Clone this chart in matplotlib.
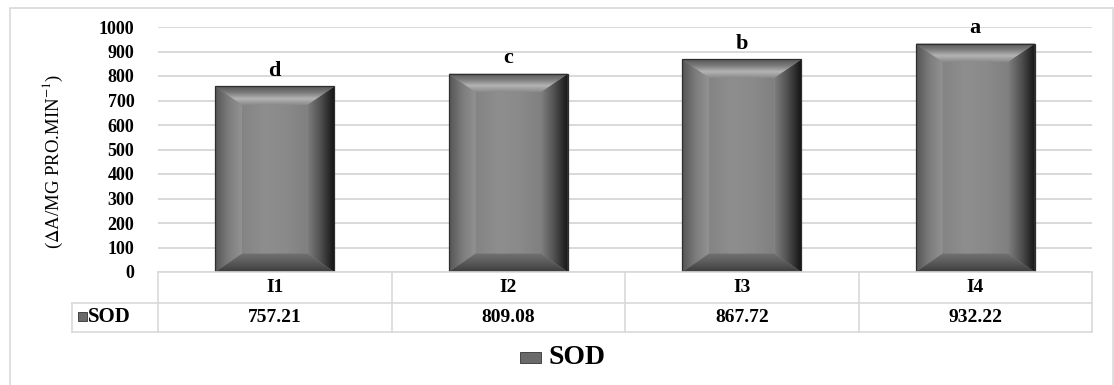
import numpy as np
import matplotlib
matplotlib.use('Agg')
import matplotlib.pyplot as plt
from matplotlib.patches import Polygon, Rectangle
from matplotlib.lines import Line2D
from matplotlib.colors import LinearSegmentedColormap

# данные
categories = ['I1', 'I2', 'I3', 'I4']
sod = [757.21, 809.08, 867.72, 932.22]
letters = ['d', 'c', 'b', 'a']
yticks = list(range(0, 1001, 100))
series_name = 'SOD'

plt.rcParams['font.family'] = ['Liberation Serif', 'DejaVu Serif']
plt.rcParams['mathtext.fontset'] = 'stix'

W, H = 1114, 385
fig = plt.figure(figsize=(W / 100, H / 100), dpi=100)


def fx(x):
    return x / W


def fy(y):
    return 1 - y / H


grid_col = '#d9d9d9'

# рамка вокруг диаграммы
fig.add_artist(Rectangle((fx(10), fy(392)), fx(1103), 392 / H - 8 / H,
                         transform=fig.transFigure, fill=False,
                         edgecolor=grid_col, lw=1.2))

ax = fig.add_axes([fx(158), fy(272), fx(1092) - fx(158), fy(27) - fy(272)])
x = np.arange(len(categories))

bars = ax.bar(x, sod, width=0.51, color='#8a8a8a', edgecolor='none', zorder=2)


def grad_poly(verts, colors, direction, extent):
    poly = Polygon(verts, closed=True, facecolor='none', edgecolor='none')
    ax.add_patch(poly)
    cmap = LinearSegmentedColormap.from_list('g', colors)
    if direction == 'h':
        arr = np.linspace(0, 1, 128)[None, :]
    else:
        arr = np.linspace(0, 1, 128)[:, None]
    im = ax.imshow(arr, cmap=cmap, extent=extent, aspect='auto',
                   origin='lower', zorder=3, interpolation='bilinear')
    im.set_clip_path(poly)


# объемный вид столбиков (фаска)
dx, dy = 0.115, 75
for b in bars:
    x0, w, h = b.get_x(), b.get_width(), b.get_height()
    x1, y0, y1 = x0 + w, 0, h
    # середина
    grad_poly([(x0 + dx, y0 + dy), (x1 - dx, y0 + dy), (x1 - dx, y1 - dy), (x0 + dx, y1 - dy)],
              ['#848484', '#8e8e8e', '#8a8a8a', '#808080'], 'h',
              [x0 + dx, x1 - dx, y0, y1])
    # левая грань
    grad_poly([(x0, y0), (x0 + dx, y0 + dy), (x0 + dx, y1 - dy), (x0, y1)],
              ['#555555', '#7c7c7c', '#929292'], 'h', [x0, x0 + dx, y0, y1])
    # правая грань
    grad_poly([(x1, y0), (x1 - dx, y0 + dy), (x1 - dx, y1 - dy), (x1, y1)],
              ['#808080', '#505050', '#161616'], 'h', [x1 - dx, x1, y0, y1])
    # верх
    grad_poly([(x0, y1), (x0 + dx, y1 - dy), (x1 - dx, y1 - dy), (x1, y1)],
              ['#8a8a8a', '#b4b4b4', '#7a7a7a', '#555555'], 'v', [x0, x1, y1 - dy, y1])
    # низ
    grad_poly([(x0, y0), (x0 + dx, y0 + dy), (x1 - dx, y0 + dy), (x1, y0)],
              ['#3c3c3c', '#5a5a5a', '#727272'], 'v', [x0, x1, y0, y0 + dy])
    ax.add_patch(Rectangle((x0, y0), w, h, fill=False, edgecolor='#2e2e2e',
                           lw=0.9, zorder=4))

for xi, v, letter in zip(x, sod, letters):
    ax.text(xi, v + 22, letter, ha='center', va='bottom', fontsize=16,
            fontweight='bold', zorder=5)

ax.set_xlim(-0.5, len(categories) - 0.5)
ax.set_ylim(0, 1000)
ax.set_yticks(yticks)
ax.set_yticklabels([str(t) for t in yticks], fontsize=13, fontweight='bold')
ax.set_xticks([])
ax.tick_params(axis='y', length=0, pad=17)
ax.yaxis.grid(True, color=grid_col, lw=1.4)
ax.set_axisbelow(True)
for s in ax.spines.values():
    s.set_visible(False)

# подпись оси Y
fig.text(fx(53), fy(161), r'($\Delta$A/MG PRO.MIN$^{-1}$)', rotation=90,
         ha='center', va='center', fontsize=13.5)

# таблица данных под осью
fig.canvas.draw()
bounds = [fig.transFigure.inverted().transform(ax.transData.transform((b, 0)))[0] * W
          for b in np.arange(len(categories) + 1) - 0.5]
right = bounds[-1]
left_lbl = 72
rows = [272, 303, 332]


def hline(y, xa, xb):
    fig.add_artist(Line2D([fx(xa), fx(xb)], [fy(y), fy(y)], color=grid_col, lw=1.2,
                          transform=fig.transFigure))


def vline(xv, ya, yb):
    fig.add_artist(Line2D([fx(xv), fx(xv)], [fy(ya), fy(yb)], color=grid_col, lw=1.2,
                          transform=fig.transFigure))


hline(rows[0], bounds[0], right)
hline(rows[1], left_lbl, right)
hline(rows[2], left_lbl, right)
for b in bounds:
    vline(b, rows[0], rows[2])
vline(left_lbl, rows[1], rows[2])

for i, (cat, v) in enumerate(zip(categories, sod)):
    cx = (bounds[i] + bounds[i + 1]) / 2
    fig.text(fx(cx), fy((rows[0] + rows[1]) / 2), cat, ha='center', va='center',
             fontsize=14, fontweight='bold')
    fig.text(fx(cx), fy((rows[1] + rows[2]) / 2), f'{v:.2f}', ha='center', va='center',
             fontsize=14, fontweight='bold')

# ключ легенды в таблице
fig.add_artist(Rectangle((fx(78), fy(321)), 9 / W, 9 / H, transform=fig.transFigure,
                         facecolor='#6a6a6a', edgecolor='#333333', lw=0.6))
fig.text(fx(88), fy(317), series_name, ha='left', va='center', fontsize=15,
         fontweight='bold')

# легенда снизу
fig.add_artist(Rectangle((fx(520), fy(363)), 21 / W, 11 / H, transform=fig.transFigure,
                         facecolor='#6a6a6a', edgecolor='#333333', lw=0.6))
fig.text(fx(548), fy(358), series_name, ha='left', va='center', fontsize=20,
         fontweight='bold')

fig.savefig('out.png', dpi=100)
